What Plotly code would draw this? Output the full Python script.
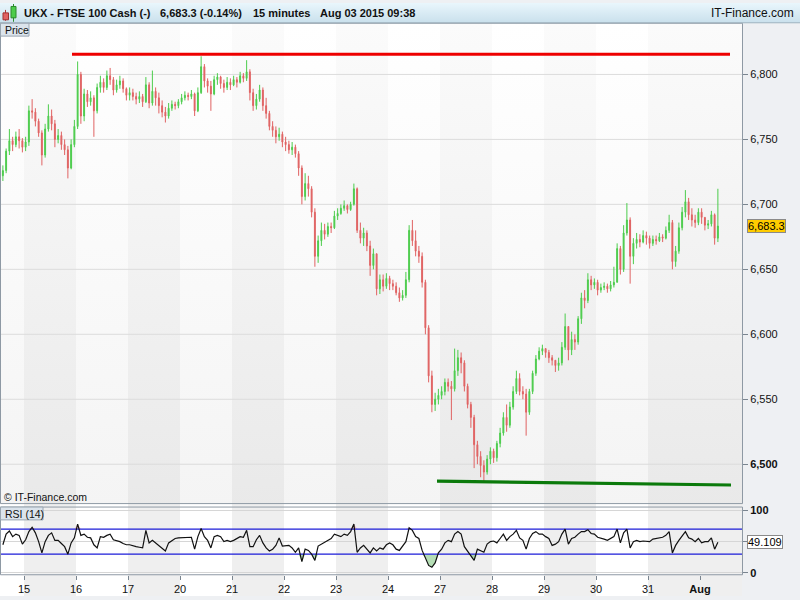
import plotly.graph_objects as go

# ---------------- data ----------------
day_labels = ['15', '16', '17', '20', '21', '22', '23', '24', '27', '28', '29', '30', '31', 'Aug']
shaded_days = [1, 0, 1, 0, 1, 0, 1, 0, 1, 0, 1, 0, 1, 1]
bars_per_day = 16
lead_bars = 7          # visible bars of Jul 14 (left edge)

first_open = 6722
close = [
    6726, 6741, 6749, 6746, 6752, 6749, 6744,                                                   # Jul 14
    6748, 6772, 6771, 6764, 6755, 6738, 6758, 6768, 6762, 6750, 6753, 6746, 6742, 6728, 6746, 6760,  # 15
    6800, 6768, 6785, 6779, 6782, 6772, 6790, 6794, 6790, 6799, 6796, 6788, 6792, 6795, 6789, 6784,  # 16
    6786, 6783, 6781, 6783, 6779, 6792, 6778, 6787, 6782, 6776, 6771, 6768, 6774, 6777, 6776, 6779,  # 17
    6782, 6784, 6783, 6785, 6772, 6786, 6806, 6795, 6791, 6785, 6796, 6798, 6793, 6790, 6794, 6792,  # 20
    6796, 6794, 6799, 6797, 6802, 6786, 6776, 6781, 6788, 6776, 6770, 6760, 6757, 6752, 6754, 6748,  # 21
    6746, 6742, 6744, 6739, 6728, 6706, 6716, 6712, 6694, 6660, 6672, 6680, 6677, 6683, 6682, 6691,  # 22
    6693, 6697, 6699, 6696, 6700, 6712, 6680, 6674, 6678, 6668, 6653, 6662, 6635, 6642, 6637, 6643,  # 23
    6639, 6637, 6632, 6628, 6630, 6642, 6680, 6672, 6664, 6660, 6640, 6605, 6568, 6546, 6550, 6553,  # 24
    6556, 6563, 6560, 6558, 6572, 6582, 6578, 6560, 6546, 6536, 6515, 6506, 6499, 6494, 6504, 6510,  # 27
    6505, 6516, 6524, 6536, 6530, 6544, 6556, 6566, 6556, 6554, 6540, 6556, 6570, 6581, 6587, 6589,  # 28
    6586, 6582, 6580, 6576, 6578, 6590, 6606, 6588, 6596, 6594, 6612, 6628, 6626, 6642, 6638, 6640,  # 29
    6634, 6636, 6637, 6635, 6638, 6640, 6666, 6650, 6678, 6688, 6660, 6670, 6673, 6671, 6676, 6674,  # 30
    6670, 6673, 6672, 6675, 6674, 6680, 6686, 6656, 6664, 6682, 6694, 6702, 6692, 6688, 6686, 6694,  # 31
    6690, 6684, 6685, 6692, 6674, 6683.3,                                                       # Aug 3
]
high = [
    6730, 6743, 6758, 6752, 6756, 6758, 6751,
    6752, 6776, 6781, 6774, 6766, 6757, 6762, 6777, 6773, 6765, 6758, 6756, 6750, 6745, 6750, 6765,
    6810, 6802, 6789, 6788, 6787, 6784, 6793, 6799, 6797, 6803, 6805, 6798, 6796, 6799, 6797, 6790,
    6790, 6789, 6786, 6787, 6785, 6798, 6794, 6803, 6790, 6786, 6780, 6775, 6778, 6780, 6779, 6781,
    6785, 6787, 6786, 6788, 6786, 6790, 6814, 6808, 6797, 6795, 6799, 6801, 6799, 6796, 6798, 6797,
    6799, 6798, 6802, 6801, 6811, 6804, 6789, 6785, 6792, 6790, 6782, 6772, 6764, 6760, 6759, 6756,
    6752, 6749, 6748, 6746, 6741, 6730, 6724, 6722, 6714, 6697, 6676, 6686, 6685, 6686, 6686, 6695,
    6697, 6700, 6703, 6700, 6702, 6716, 6713, 6686, 6682, 6680, 6672, 6666, 6662, 6646, 6646, 6647,
    6645, 6642, 6640, 6636, 6634, 6648, 6684, 6688, 6680, 6668, 6663, 6642, 6607, 6572, 6555, 6558,
    6560, 6566, 6566, 6564, 6589, 6588, 6586, 6580, 6562, 6548, 6538, 6518, 6510, 6503, 6507, 6513,
    6512, 6518, 6528, 6540, 6546, 6548, 6560, 6572, 6570, 6560, 6558, 6558, 6572, 6584, 6590, 6592,
    6589, 6588, 6584, 6580, 6582, 6594, 6616, 6606, 6602, 6600, 6614, 6632, 6634, 6647, 6645, 6643,
    6642, 6639, 6640, 6639, 6641, 6652, 6670, 6668, 6684, 6701, 6690, 6674, 6678, 6677, 6680, 6679,
    6676, 6676, 6676, 6678, 6677, 6683, 6692, 6688, 6668, 6686, 6698, 6711, 6705, 6697, 6692, 6697,
    6697, 6690, 6688, 6695, 6693, 6712,
]
low = [
    6718, 6724, 6738, 6741, 6744, 6743, 6740,
    6741, 6745, 6766, 6760, 6752, 6730, 6736, 6756, 6757, 6744, 6747, 6742, 6738, 6720, 6727, 6744,
    6758, 6762, 6764, 6775, 6776, 6752, 6770, 6786, 6786, 6788, 6792, 6784, 6786, 6789, 6786, 6780,
    6780, 6780, 6777, 6778, 6775, 6778, 6774, 6776, 6776, 6770, 6767, 6763, 6766, 6772, 6773, 6774,
    6777, 6780, 6780, 6781, 6768, 6771, 6785, 6790, 6786, 6772, 6784, 6792, 6789, 6786, 6788, 6788,
    6791, 6790, 6793, 6794, 6795, 6780, 6772, 6773, 6779, 6772, 6766, 6757, 6752, 6747, 6749, 6744,
    6741, 6739, 6738, 6736, 6722, 6700, 6703, 6706, 6690, 6652, 6655, 6668, 6673, 6675, 6678, 6681,
    6688, 6692, 6695, 6693, 6695, 6699, 6678, 6670, 6668, 6664, 6645, 6650, 6630, 6631, 6633, 6635,
    6634, 6634, 6630, 6625, 6626, 6628, 6640, 6668, 6660, 6655, 6636, 6600, 6563, 6540, 6541, 6546,
    6550, 6553, 6556, 6534, 6556, 6568, 6570, 6556, 6543, 6528, 6497, 6500, 6490, 6487, 6492, 6500,
    6501, 6502, 6513, 6522, 6525, 6528, 6542, 6554, 6553, 6550, 6522, 6538, 6554, 6568, 6580, 6584,
    6582, 6578, 6576, 6571, 6572, 6576, 6588, 6580, 6584, 6588, 6592, 6608, 6620, 6624, 6634, 6635,
    6630, 6632, 6634, 6632, 6633, 6636, 6640, 6646, 6648, 6676, 6639, 6654, 6666, 6667, 6670, 6669,
    6666, 6668, 6669, 6671, 6671, 6673, 6678, 6650, 6652, 6662, 6680, 6690, 6688, 6683, 6682, 6684,
    6685, 6680, 6681, 6683, 6669, 6671,
]
rsi = [
    45, 62, 67, 58, 62, 60, 46,
    53, 66, 73, 64, 50, 32, 50, 60, 64, 52, 52, 47, 42, 30, 48, 56,
    78, 60, 62, 57, 56, 45, 40, 58, 57, 60, 62, 53, 52, 50, 47, 45,
    45, 43, 42, 41, 40, 68, 48, 52, 48, 44, 40, 35, 48, 52, 55, 56,
    56, 57, 57, 57, 38, 58, 71, 58, 52, 40, 58, 60, 58, 50, 52, 50,
    52, 55, 58, 57, 68, 42, 42, 53, 60, 48, 40, 35, 38, 44, 56, 43,
    43, 44, 40, 33, 40, 18, 38, 36, 30, 20, 43, 46, 50, 53, 55, 62,
    60, 58, 62, 60, 66, 78, 33, 40, 44, 38, 32, 40, 35, 40, 38, 45,
    48, 45, 38, 36, 44, 50, 72, 68, 58, 55, 36, 24, 12, 9, 16, 32,
    38, 48, 52, 50, 62, 66, 62, 42, 35, 28, 20, 38, 35, 33, 46, 50,
    51, 48, 55, 62, 52, 58, 62, 68, 56, 52, 38, 55, 63, 66, 62, 62,
    58, 55, 44, 46, 50, 62, 70, 46, 55, 57, 62, 66, 66, 69, 63, 62,
    57, 56, 54, 52, 55, 58, 70, 48, 64, 70, 40, 50, 52, 50, 51, 50,
    50, 54, 55, 56, 57, 60, 66, 32, 44, 52, 60, 66, 56, 54, 50, 55,
    48, 50, 50, 56, 38, 49.109,
]
price_ticks = [6500, 6550, 6600, 6650, 6700, 6750, 6800]
rsi_ticks = [0, 50, 100]
rsi_levels = [30, 70]
resistance_level = [6815.5, 6815.5]
support_level = [6487.0, 6484.0]

# ---------------- geometry / styling ----------------
W, H = 800, 600
PX_DAY = 52.0
X_LO, X_HI = -24 / PX_DAY, (742 - 24) / PX_DAY
Y_LO, Y_HI = 6469.7, 6839.4
R_LO, R_HI = -2.84, 105.2
GREEN, RED = '#4ccc4c', '#e06262'
FONT = 'Liberation Sans, Arial, sans-serif'


def day_x(px):
    """pixel column inside the plot -> day units of the x axis"""
    return (px - 24) / PX_DAY


n = len(close)
opens = [first_open] + close[:-1]
hi = [max(h, o, c) for h, o, c in zip(high, opens, close)]
lo = [min(l, o, c) for l, o, c in zip(low, opens, close)]
xs = [(i + bars_per_day - lead_bars + 0.5) / bars_per_day - 1 for i in range(n)]

fig = go.Figure()

# ---- main panel background (subplot x/y, drawn beneath the overlay y4) ----
fig.add_trace(go.Scatter(
    x=[X_LO, X_HI, X_HI, X_LO, X_LO], y=[Y_LO, Y_LO, Y_HI, Y_HI, Y_LO],
    mode='lines', line=dict(width=0), fill='toself',
    fillgradient=dict(type='vertical', colorscale=[[0, '#f4f4f4'], [1, '#ffffff']],
                      start=Y_LO, stop=Y_HI),
    hoverinfo='skip', showlegend=False, xaxis='x', yaxis='y'))

bx, by = [], []
for k, s in enumerate(shaded_days):
    if s:
        x0, x1 = k, min(k + 1, X_HI)
        bx += [x0, x1, x1, x0, x0, None]
        by += [Y_LO, Y_LO, Y_HI, Y_HI, Y_LO, None]
fig.add_trace(go.Scatter(
    x=bx, y=by, mode='lines', line=dict(width=0), fill='toself',
    fillgradient=dict(type='vertical', colorscale=[[0, '#e9e9e9'], [1, '#fbfbfb']],
                      start=Y_LO, stop=Y_HI),
    hoverinfo='skip', showlegend=False, xaxis='x', yaxis='y'))

gx, gy = [], []
for v in price_ticks:
    gx += [X_LO, X_HI, None]
    gy += [v, v, None]
fig.add_trace(go.Scatter(x=gx, y=gy, mode='lines', line=dict(color='#dcdcdc', width=1),
                         hoverinfo='skip', showlegend=False, xaxis='x', yaxis='y'))

# ---- candles + drawn lines on the overlay axis y4 ----
fig.add_trace(go.Candlestick(
    x=xs, open=opens, high=hi, low=lo, close=close,
    increasing=dict(line=dict(color=GREEN, width=1), fillcolor=GREEN),
    decreasing=dict(line=dict(color=RED, width=1), fillcolor=RED),
    whiskerwidth=0, hoverinfo='skip', showlegend=False, xaxis='x', yaxis='y4'))

fig.add_trace(go.Scatter(x=[day_x(72), day_x(730)], y=resistance_level,
                         mode='lines', line=dict(color='#ee0000', width=3),
                         hoverinfo='skip', showlegend=False, xaxis='x', yaxis='y4'))
fig.add_trace(go.Scatter(x=[day_x(437), day_x(731)], y=support_level,
                         mode='lines', line=dict(color='#0b7a0b', width=3.2),
                         hoverinfo='skip', showlegend=False, xaxis='x', yaxis='y4'))

# ---------------- RSI panel ----------------
lo_lvl, hi_lvl = rsi_levels
fig.add_trace(go.Scatter(x=xs, y=[lo_lvl] * n, mode='lines', line=dict(width=0),
                         hoverinfo='skip', showlegend=False, xaxis='x2', yaxis='y2'))
fig.add_trace(go.Scatter(x=xs, y=[min(r, lo_lvl) for r in rsi], mode='lines', line=dict(width=0),
                         fill='tonexty', fillcolor='rgba(120,195,120,0.55)',
                         hoverinfo='skip', showlegend=False, xaxis='x2', yaxis='y2'))
fig.add_trace(go.Scatter(x=xs, y=[hi_lvl] * n, mode='lines', line=dict(width=0),
                         hoverinfo='skip', showlegend=False, xaxis='x2', yaxis='y2'))
fig.add_trace(go.Scatter(x=xs, y=[max(r, hi_lvl) for r in rsi], mode='lines', line=dict(width=0),
                         fill='tonexty', fillcolor='rgba(235,150,150,0.5)',
                         hoverinfo='skip', showlegend=False, xaxis='x2', yaxis='y2'))
lx, ly = [], []
for v in rsi_levels:
    lx += [X_LO, X_HI, None]
    ly += [v, v, None]
fig.add_trace(go.Scatter(x=lx, y=ly, mode='lines', line=dict(color='#1c1cd8', width=1.3),
                         hoverinfo='skip', showlegend=False, xaxis='x2', yaxis='y2'))
fig.add_trace(go.Scatter(x=xs, y=rsi, mode='lines', line=dict(color='#111111', width=1.2),
                         hoverinfo='skip', showlegend=False, xaxis='x2', yaxis='y2'))

# ---------------- header (pixel overlay axes) ----------------
fig.add_trace(go.Scatter(
    x=[0, W, W, 0, 0], y=[0, 0, 20, 20, 0], mode='lines', line=dict(width=0), fill='toself',
    fillgradient=dict(type='vertical', colorscale=[[0, '#e9f6fc'], [1, '#c9e0ec']], start=0, stop=20),
    hoverinfo='skip', showlegend=False, xaxis='x3', yaxis='y3'))

shapes = []
shapes.append(dict(type='rect', xref='paper', yref='paper', x0=0, x1=742 / W, y0=0, y1=1 - 20 / H,
                   fillcolor='#ffffff', line=dict(width=0), layer='below'))
for k, s in enumerate(shaded_days):
    if s:
        shapes.append(dict(type='rect', xref='x', yref='paper', x0=k, x1=min(k + 1, X_HI),
                           y0=0, y1=1 - 20 / H, fillcolor='#efefef', line=dict(width=0), layer='below'))
for (x0, y0, x1, y1) in [(0.5, 20.5, 742.5, 506.5), (0.5, 510, 742.5, 578.5)]:
    shapes.append(dict(type='rect', xref='x3', yref='y3', x0=x0, x1=x1, y0=y0, y1=y1,
                       line=dict(color='#8e99a4', width=1), layer='above'))
shapes.append(dict(type='line', xref='x3', yref='y3', x0=0, x1=W, y0=20, y1=20,
                   line=dict(color='#9fb3bf', width=1), layer='above'))
shapes.append(dict(type='rect', xref='x3', yref='y3', x0=0.5, x1=29, y0=20.5, y1=33.5,
                   fillcolor='#dbe4ec', line=dict(color='#9aa6b2', width=1), layer='above'))
shapes.append(dict(type='rect', xref='x3', yref='y3', x0=0.5, x1=43, y0=510, y1=523,
                   fillcolor='#dbe4ec', line=dict(color='#9aa6b2', width=1), layer='above'))
shapes += [
    dict(type='line', xref='x3', yref='y3', x0=5.5, x1=5.5, y0=7, y1=18, line=dict(color='#b03a3a', width=1)),
    dict(type='rect', xref='x3', yref='y3', x0=3, x1=8.5, y0=10, y1=17, fillcolor='#e06262', line=dict(color='#a03030', width=1)),
    dict(type='line', xref='x3', yref='y3', x0=13.5, x1=13.5, y0=1, y1=19, line=dict(color='#2a8a2a', width=1)),
    dict(type='rect', xref='x3', yref='y3', x0=11, x1=16, y0=3.5, y1=15, fillcolor='#4ccc4c', line=dict(color='#2a8a2a', width=1)),
]

ann = []


def txt(x, y, s, size=11, xanchor='left', bold=False, color='#111111'):
    ann.append(dict(xref='x3', yref='y3', x=x, y=y, text=(f'<b>{s}</b>' if bold else s),
                    showarrow=False, xanchor=xanchor, yanchor='middle',
                    font=dict(family=FONT, size=size, color=color)))


txt(22, 10, 'UKX - FTSE 100 Cash (-)', bold=True)
txt(158, 10, '6,683.3 (-0.14%)', bold=True)
txt(251, 10, '15 minutes', bold=True)
txt(318, 10, 'Aug 03 2015 09:38', bold=True)
txt(796, 10, 'IT-Finance.com', size=12, xanchor='right')
txt(3, 27.5, 'Price', size=10.5)
txt(3, 517, 'RSI (14)', size=10.5)
txt(2, 500, '© IT-Finance.com', size=10.5)

ann.append(dict(xref='paper', yref='y', x=747 / W, y=close[-1], text=f'{close[-1]:,.1f}',
                showarrow=False, xanchor='left', yanchor='middle', bgcolor='#ffcc00',
                bordercolor='#8a8a8a', borderwidth=1, borderpad=0,
                font=dict(family=FONT, size=11, color='#000000')))
ann.append(dict(xref='paper', yref='y2', x=747 / W, y=rsi[-1], text=f'{rsi[-1]:.3f}',
                showarrow=False, xanchor='left', yanchor='middle', bgcolor='#ffffff',
                bordercolor='#8a8a8a', borderwidth=1, borderpad=0,
                font=dict(family=FONT, size=11, color='#000000')))

price_text = [f'{v:,}' for v in price_ticks]
price_text[0] = f'<b>{price_text[0]}</b>'
tick_days = list(range(len(day_labels)))
day_text = [f'<b>{d}</b>' if not d.isdigit() else d for d in day_labels]

fig.update_layout(
    width=W, height=H, margin=dict(l=0, r=0, t=0, b=0),
    paper_bgcolor='#eef0f3', plot_bgcolor='rgba(0,0,0,0)',
    showlegend=False, hovermode=False, dragmode=False, boxgap=0.6,
    font=dict(family=FONT, size=11, color='#111111'),
    xaxis=dict(domain=[0, 742 / W], range=[X_LO, X_HI], anchor='y', showticklabels=False,
               showgrid=False, zeroline=False, ticks='', rangeslider=dict(visible=False)),
    yaxis=dict(domain=[1 - 506.5 / H, 1 - 20.5 / H], range=[Y_LO, Y_HI], anchor='x', side='right',
               tickvals=price_ticks, ticktext=price_text, ticks='outside', ticklen=5,
               tickcolor='#7a8590', showgrid=False, zeroline=False,
               tickfont=dict(family=FONT, size=11, color='#111111')),
    yaxis4=dict(overlaying='y', range=[Y_LO, Y_HI], anchor='x', side='right', visible=False,
                showgrid=False, zeroline=False),
    xaxis2=dict(domain=[0, 742 / W], range=[X_LO, X_HI], anchor='y2', tickvals=tick_days,
                ticktext=day_text, ticks='outside', ticklen=4, tickcolor='#7a8590',
                showgrid=False, zeroline=False, tickfont=dict(family=FONT, size=11, color='#111111')),
    yaxis2=dict(domain=[1 - 578.5 / H, 1 - 510 / H], range=[R_LO, R_HI], anchor='x2', side='right',
                tickvals=rsi_ticks, ticktext=['<b>0</b>', '', '<b>100</b>'], ticks='outside',
                ticklen=5, tickcolor='#7a8590', showgrid=True, gridcolor='#d6d6d6', gridwidth=1,
                zeroline=False, tickfont=dict(family=FONT, size=11, color='#111111')),
    xaxis3=dict(domain=[0, 1], range=[0, W], anchor='y3', visible=False, fixedrange=True),
    yaxis3=dict(domain=[0, 1], range=[H, 0], anchor='x3', visible=False, fixedrange=True),
    shapes=shapes, annotations=ann,
)

fig.write_html('out.html', config={'staticPlot': True},
               post_script="document.body.style.margin='0';document.body.style.overflow='hidden';")
